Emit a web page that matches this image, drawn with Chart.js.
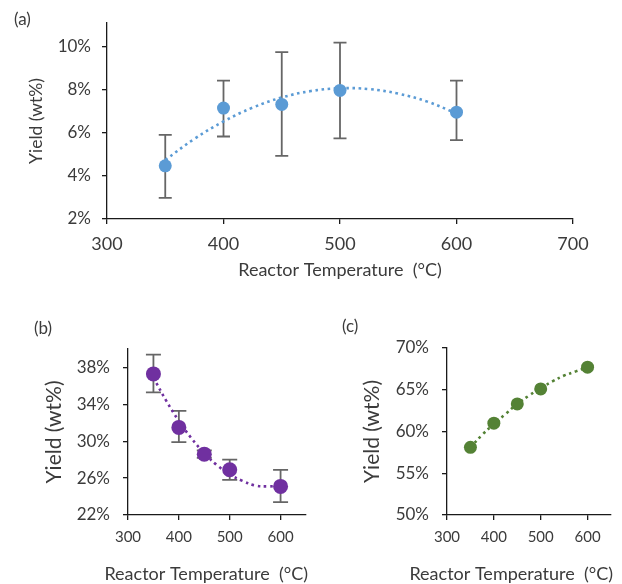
<!DOCTYPE html>
<html><head><meta charset="utf-8">
<script src="https://cdn.jsdelivr.net/npm/chart.js@4.4.1/dist/chart.umd.min.js"></script>
<style>
html,body{margin:0;padding:0;background:#fff;width:622px;height:584px;overflow:hidden;}
.wrap{position:absolute;}
.lbl{position:absolute;font-family:Lato,sans-serif;font-size:17px;line-height:20px;color:#3b3b3b;}
</style></head><body>
<div class="wrap" style="left:0;top:0;width:622px;height:290px"><canvas id="ca" width="622" height="290"></canvas></div>
<div class="wrap" style="left:0;top:290px;width:320px;height:294px"><canvas id="cb" width="320" height="294"></canvas></div>
<div class="wrap" style="left:320px;top:290px;width:302px;height:294px"><canvas id="cc" width="302" height="294"></canvas></div>
<div class="lbl" style="left:14px;top:9px">(a)</div>
<div class="lbl" style="left:34px;top:318px">(b)</div>
<div class="lbl" style="left:342px;top:316px">(c)</div>
<script>
// ---- data ----
const temps = [350, 400, 450, 500, 600];
const trendTemps = [350, 375, 400, 425, 450, 475, 500, 525, 550, 575, 600];

// (a)
const yieldA = [4.47, 7.15, 7.32, 7.97, 6.96];
const errLowA = [2.98, 5.83, 4.93, 5.74, 5.66];
const errHighA = [5.91, 8.42, 9.75, 10.19, 8.42];
const trendA = [4.74, 5.72, 6.53, 7.17, 7.64, 7.94, 8.07, 8.03, 7.82, 7.45, 6.90];
const xTicksA = [300, 400, 500, 600, 700];
const yTicksA = [2, 4, 6, 8, 10];

// (b)
const yieldB = [37.3, 31.5, 28.6, 26.9, 25.1];
const errLowB = [35.3, 29.9, 28.2, 25.8, 23.4];
const errHighB = [39.4, 33.3, 29.0, 28.0, 26.9];
const trendB = [36.9, 34.4, 32.2, 30.3, 28.7, 27.4, 26.4, 25.7, 25.2, 25.1, 25.2];
const xTicksB = [300, 400, 500, 600];
const yTicksB = [22, 26, 30, 34, 38];

// (c)
const yieldC = [58.1, 61.0, 63.3, 65.1, 67.7];
const trendC = [58.1, 59.6, 60.9, 62.1, 63.3, 64.3, 65.2, 66.0, 66.7, 67.2, 67.7];
const xTicksC = [300, 400, 500, 600];
const yTicksC = [50, 55, 60, 65, 70];

const xTitle = 'Reactor Temperature  (°C)';
const yTitle = 'Yield (wt%)';

// ---- style ----
const F = 'Lato';
const TC = '#3b3b3b';
const AX = '#1a1a1a';

const errorBarPlugin = {
  id: 'errorBars',
  beforeDatasetsDraw(chart, args, opts) {
    if (!opts || !opts.low) return;
    const xs = chart.scales.x, ys = chart.scales.y, ctx = chart.ctx;
    ctx.save();
    ctx.strokeStyle = opts.color; ctx.lineWidth = opts.width;
    opts.x.forEach((xv, i) => {
      const px = xs.getPixelForValue(xv);
      const pl = ys.getPixelForValue(opts.low[i]);
      const ph = ys.getPixelForValue(opts.high[i]);
      ctx.beginPath();
      ctx.moveTo(px, pl); ctx.lineTo(px, ph);
      ctx.moveTo(px - opts.cap, pl); ctx.lineTo(px + opts.cap, pl);
      ctx.moveTo(px - opts.cap, ph); ctx.lineTo(px + opts.cap, ph);
      ctx.stroke();
    });
    ctx.restore();
  }
};

// x-axis title drawn right-aligned to the x scale end, without width compression
const xTitlePlugin = {
  id: 'xTitleEnd',
  afterDraw(chart, args, opts) {
    if (!opts || !opts.text) return;
    const xs = chart.scales.x, ctx = chart.ctx;
    ctx.save();
    ctx.font = opts.size + 'px ' + F;
    ctx.fillStyle = TC;
    ctx.textAlign = 'right';
    ctx.textBaseline = 'middle';
    ctx.fillText(opts.text, xs.right + 2, xs.bottom - opts.offset);
    ctx.restore();
  }
};

function pts(xs, ys) { return xs.map((x, i) => ({x: x, y: ys[i]})); }

function make(id, o) {
  new Chart(document.getElementById(id), {
    type: 'scatter',
    data: {
      datasets: [
        {data: pts(temps, o.yv), pointRadius: o.r, pointHoverRadius: o.r, pointBackgroundColor: o.color,
         pointBorderColor: o.color, pointBorderWidth: 0, showLine: false, order: 0},
        {data: pts(trendTemps, o.trend), showLine: true, pointRadius: 0, borderColor: o.color,
         borderWidth: 2.6, borderDash: [2.6, 3.6], tension: 0.4, fill: false, order: 1}
      ]
    },
    options: {
      responsive: false, animation: false, devicePixelRatio: 1,
      layout: {padding: o.pad},
      plugins: {
        legend: {display: false}, tooltip: {enabled: false},
        errorBars: o.err ? {x: temps, low: o.err[0], high: o.err[1], color: '#666666', width: 1.8, cap: o.cap} : {},
        xTitleEnd: o.xAlign === 'end' ? {text: xTitle, size: o.xTitleSize, offset: 10} : {}
      },
      scales: {
        x: {
          type: 'linear', min: o.xMin, max: o.xMax,
          afterBuildTicks: s => { s.ticks = o.xTicks.map(v => ({value: v})); },
          afterFit: s => { s.height = o.xH; },
          grid: {display: true, drawOnChartArea: false, drawTicks: true, tickLength: 5, color: AX, lineWidth: 1.3},
          border: {display: true, color: AX, width: 1.3},
          ticks: {font: {family: F, size: o.xTickSize}, color: TC, padding: o.xTickPad, maxRotation: 0, autoSkip: false},
          title: {display: o.xAlign !== 'end', text: xTitle, color: TC,
                  font: {family: F, size: o.xTitleSize, lineHeight: 1}, padding: {top: 0, bottom: o.xTitlePadB}}
        },
        y: {
          type: 'linear', min: o.yMin, max: o.yMax,
          afterBuildTicks: s => { s.ticks = o.yTicks.map(v => ({value: v})); },
          afterFit: s => { s.width = o.yW; },
          grid: {display: true, drawOnChartArea: false, drawTicks: true, tickLength: 5, color: AX, lineWidth: 1.3},
          border: {display: true, color: AX, width: 1.3},
          ticks: {font: {family: F, size: o.yTickSize}, color: TC, padding: o.yTickPad, callback: v => v + '%'},
          title: {display: true, text: yTitle, color: TC,
                  font: {family: F, size: o.yTitleSize, lineHeight: 1}, padding: {top: 0, bottom: 0}}
        }
      }
    },
    plugins: [errorBarPlugin, xTitlePlugin]
  });
}

make('ca', {
  yv: yieldA, trend: trendA, err: [errLowA, errHighA], color: '#5B9BD5', r: 6.5, cap: 6.5,
  xMin: 300, xMax: 700, xTicks: xTicksA, yMin: 2, yMax: 11.1, yTicks: yTicksA,
  pad: {left: 28, right: 49, top: 23, bottom: 0}, yW: 79, xH: 71,
  xTickSize: 18, xTickPad: 9, xTitleSize: 18, xTitlePadB: 11, xAlign: 'center',
  yTickSize: 17, yTickPad: 11, yTitleSize: 17.5
});

make('cb', {
  yv: yieldB, trend: trendB, err: [errLowB, errHighB], color: '#7030A0', r: 7.5, cap: 7.5,
  xMin: 300, xMax: 650, xTicks: xTicksB, yMin: 22, yMax: 40, yTicks: yTicksB,
  pad: {left: 44, right: 14, top: 59, bottom: 0}, yW: 84, xH: 69,
  xTickSize: 15, xTickPad: 8, xTitleSize: 18, xTitlePadB: 0, xAlign: 'end',
  yTickSize: 17, yTickPad: 13, yTitleSize: 21
});

make('cc', {
  yv: yieldC, trend: trendC, err: null, color: '#548235', r: 6.5, cap: 6,
  xMin: 300, xMax: 650, xTicks: xTicksC, yMin: 50, yMax: 70, yTicks: yTicksC,
  pad: {left: 42, right: 11, top: 58, bottom: 0}, yW: 85, xH: 69,
  xTickSize: 15, xTickPad: 8, xTitleSize: 18, xTitlePadB: 0, xAlign: 'end',
  yTickSize: 17, yTickPad: 13, yTitleSize: 21
});
</script>
</body></html>
